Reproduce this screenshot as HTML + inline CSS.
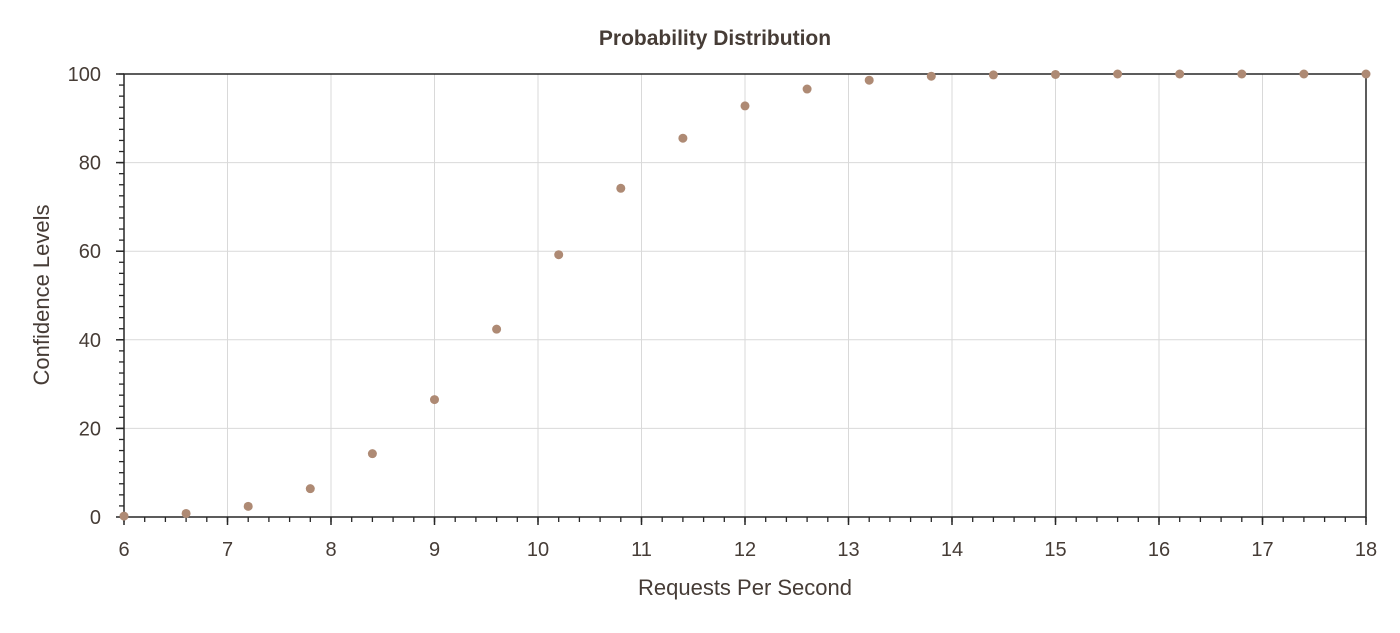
<!DOCTYPE html>
<html><head><meta charset="utf-8"><style>
body{margin:0;background:#fff;}
svg text{font-family:"Liberation Sans",sans-serif;fill:#463c36;}
</style></head><body>
<svg id="chart" width="1400" height="628" xmlns="http://www.w3.org/2000/svg">
<text x="715" y="45" text-anchor="middle" font-size="21" font-weight="bold">Probability Distribution</text>
<g id="grid"></g><g id="axes"></g><g id="points"></g>
<text x="745" y="595" text-anchor="middle" font-size="22">Requests Per Second</text>
<text transform="translate(49,295) rotate(-90)" text-anchor="middle" font-size="22">Confidence Levels</text>
</svg>
<script>
const xValues=[6,6.6,7.2,7.8,8.4,9,9.6,10.2,10.8,11.4,12,12.6,13.2,13.8,14.4,15,15.6,16.2,16.8,17.4,18];
const yValues=[0.2,0.8,2.4,6.4,14.3,26.5,42.4,59.2,74.2,85.5,92.8,96.6,98.6,99.5,99.8,99.9,100,100,100,100,100];
const xTicks=[6,7,8,9,10,11,12,13,14,15,16,17,18];
const yTicks=[0,20,40,60,80,100];
const X0=124,X1=1366,Y0=517,Y1=74;
const sx=v=>X0+(v-6)/12*(X1-X0);
const sy=v=>Y0-(v/100)*(Y0-Y1);
const NS='http://www.w3.org/2000/svg';
function mk(p,t,a){const e=document.createElementNS(NS,t);for(const k in a)e.setAttribute(k,a[k]);p.appendChild(e);return e;}
const g=document.getElementById('grid'),ax=document.getElementById('axes'),pt=document.getElementById('points');
xTicks.forEach(t=>{
 const l=mk(g,'line',{x1:sx(t),x2:sx(t),y1:Y1,y2:Y0,stroke:'#d9d9d9','stroke-width':1});
 
 
 const tx=mk(ax,'text',{x:sx(t),y:556,'text-anchor':'middle','font-size':20});
 tx.textContent=t;
 
 
 mk(ax,'line',{x1:sx(t),x2:sx(t),y1:Y0,y2:Y0+8,stroke:'#262626','stroke-width':1.5});
});
for(let v=6;v<=18.001;v+=0.2){mk(ax,'line',{x1:sx(v),x2:sx(v),y1:Y0,y2:Y0+5,stroke:'#262626','stroke-width':1.3});}
yTicks.forEach(t=>{
 const l=mk(g,'line',{x1:X0,x2:X1,y1:sy(t),y2:sy(t),stroke:'#d9d9d9','stroke-width':1});
 
 
 const tx=mk(ax,'text',{x:101,y:sy(t)+7,'text-anchor':'end','font-size':20});
 tx.textContent=t;
 
 
 mk(ax,'line',{x1:X0-8,x2:X0,y1:sy(t),y2:sy(t),stroke:'#262626','stroke-width':1.5});
});
for(let v=0;v<=100.001;v+=2.5){mk(ax,'line',{x1:X0-5,x2:X0,y1:sy(v),y2:sy(v),stroke:'#262626','stroke-width':1.3});}
mk(ax,'rect',{x:X0,y:Y1,width:X1-X0,height:Y0-Y1,fill:'none',stroke:'#262626','stroke-width':1.5});
xValues.forEach((x,i)=>{
 const c=mk(pt,'circle',{cx:sx(x),cy:sy(yValues[i]),r:4.5,fill:'#ae8a74'});
 
 
});
</script>
</body></html>
